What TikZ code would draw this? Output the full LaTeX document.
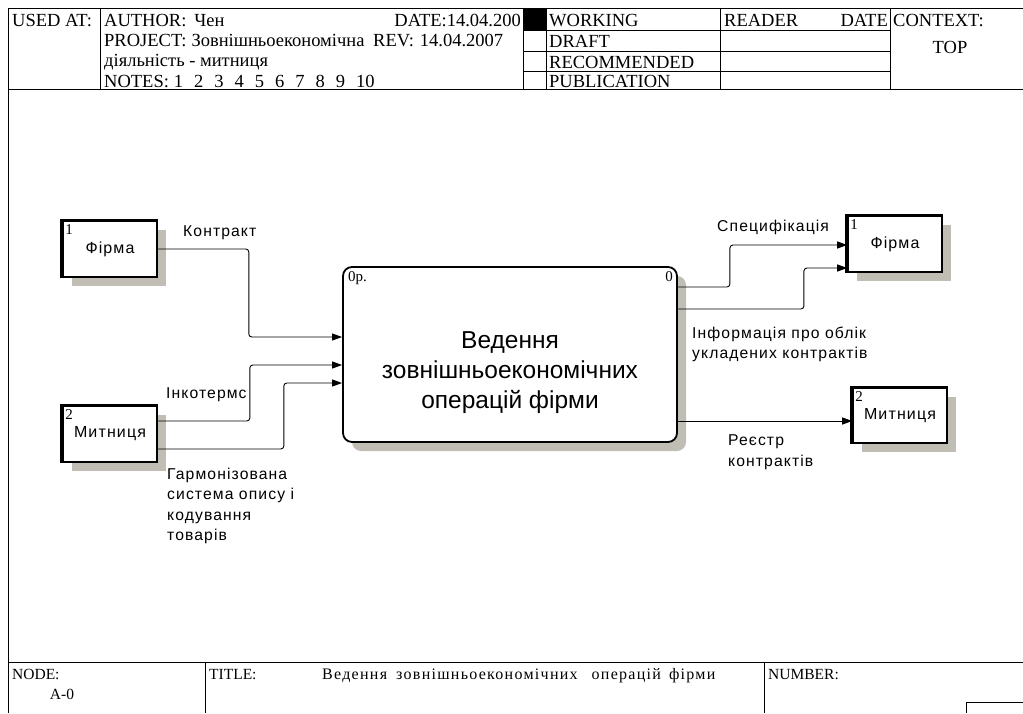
\documentclass[tikz,border=0pt]{standalone}
\usepackage{fontspec}
\setmainfont{Liberation Serif}
\newfontfamily\labfont{Liberation Sans}[LetterSpace=7]
\newfontfamily\titlefont{Liberation Sans}
\newfontfamily\ftitlefont{Liberation Serif}[LetterSpace=8]
\usetikzlibrary{arrows.meta,calc,shadows}
\definecolor{shadowc}{RGB}{192,189,180}
\begin{document}
\begin{tikzpicture}[x=1pt,y=-1pt,
  frameline/.style={line width=1pt, draw=black},
  hdr/.style={anchor=base west, inner sep=0pt, font=\fontsize{18.5}{20}\selectfont},
  ftr/.style={anchor=base west, inner sep=0pt, font=\fontsize{15.5}{18}\selectfont},
  lbl/.style={anchor=base west, inner sep=0pt, align=left, font=\labfont\fontsize{15.7}{20.5}\selectfont},
  ent/.style={draw, fill=white, line width=1.6pt, minimum width=94pt, minimum height=56pt, inner sep=0pt,
    font=\labfont\fontsize{16}{18}\selectfont,
    drop shadow={shadow xshift=9pt, shadow yshift=-9pt, fill=shadowc, opacity=1}},
  entnum/.style={anchor=north west, inner sep=0pt, font=\fontsize{15}{15}\selectfont},
  entleft/.style={line width=3.5pt},
  enttop/.style={line width=2.5pt},
  conn/.style={draw, line width=0.9pt, rounded corners=3pt, -{Triangle[length=10pt,width=7pt]}}
]
\useasboundingbox (0,0) rectangle (1023,713);
% frame and header
\draw[frameline] (8,713) -- (8,8) -- (1023,8);
\draw[frameline] (8,89) -- (1023,89);
\draw[frameline] (100,8) -- (100,89);
\draw[frameline] (523,8) -- (523,89);
\draw[frameline] (546,8) -- (546,89);
\draw[frameline] (720,8) -- (720,89);
\draw[frameline] (890,8) -- (890,89);
\draw[frameline] (523,30) -- (890,30);
\draw[frameline] (523,51) -- (890,51);
\draw[frameline] (523,71) -- (890,71);
\node[hdr] (usedat) at (12,26) {USED AT:};
\node[hdr] (author) at (104,26) {AUTHOR:\hspace{8pt}Чен};
\node[hdr, anchor=base east] (date1) at (521,26) {DATE:14.04.200};
\node[hdr] (project) at (104,46.5) {PROJECT:\hspace{5pt}Зовнішньоекономічна};
\node[hdr] (rev) at (373,46.5) {REV:\hspace{6pt}14.04.2007};
\node[hdr] (proj2) at (104,66) {діяльність - митниця};
\node[hdr] (notes) at (104,87) {NOTES:\hspace{5pt}1\hspace{11pt}2\hspace{11pt}3\hspace{11pt}4\hspace{11pt}5\hspace{11pt}6\hspace{11pt}7\hspace{11pt}8\hspace{11pt}9\hspace{11pt}10};
\fill[black] (523,8) rectangle (546,30);
\node[hdr] (working) at (549,26.5) {WORKING};
\node[hdr] (draft) at (549,47.5) {DRAFT};
\node[hdr] (recom) at (549,68) {RECOMMENDED};
\node[hdr] (publ) at (549,87) {PUBLICATION};
\node[hdr] (reader) at (724,26.5) {READER};
\node[hdr, anchor=base east] (date2) at (888,26.5) {DATE};
\node[hdr] (context) at (893,26.5) {CONTEXT:};
\node[hdr, anchor=base] (top) at (950,53) {TOP};
% footer
\draw[frameline] (8,662) -- (1023,662);
\draw[frameline] (205,662) -- (205,713);
\draw[frameline] (764,662) -- (764,713);
\draw[frameline] (966,713) -- (966,702) -- (1023,702);
\node[ftr] (nodelbl) at (12,679) {NODE:};
\node[ftr, anchor=base] (nodeval) at (62,699) {A-0};
\node[ftr] (titlelbl) at (209,679) {TITLE:};
\node[ftr, font=\ftitlefont\fontsize{16}{18}\selectfont] (titleval) at (322,679) {Ведення\hspace{9pt}зовнішньоекономічних\hspace{14pt}операцій\hspace{8pt}фірми};
\node[ftr] (numlbl) at (768,679) {NUMBER:};
% main activity
\node[draw, fill=white, rounded corners=9pt, line width=1.8pt, minimum width=334pt, minimum height=175pt,
  drop shadow={shadow xshift=9pt, shadow yshift=-9pt, fill=shadowc, opacity=1}] (main) at (510,354.5) {};
\node[font=\titlefont\fontsize{24.5}{30}\selectfont, align=center, inner sep=0pt] (maintitle) at (510,373) {Ведення\\зовнішньоекономічних\\операцій фірми};
\node[anchor=north west, inner sep=0pt, font=\fontsize{15}{15}\selectfont] (mainnum) at (348,271) {0р.};
\node[anchor=north east, inner sep=0pt, font=\fontsize{15}{15}\selectfont] (mainnum2) at (673,271) {0};
% entities
\node[ent] (f1) at (110,249) {\raisebox{-7pt}{Фірма}};
\node[ent] (m1) at (110,434) {\raisebox{-7pt}{Митниця}};
\node[ent] (f2) at (895,244) {\raisebox{-8pt}{Фірма}};
\node[ent, minimum height=55pt] (m2) at (900,415.5) {\raisebox{-7pt}{Митниця}};
\foreach \e in {f1,m1,f2,m2}{
  \draw[entleft] (\e.south west) -- (\e.north west);
  \draw[enttop] ([xshift=-1.75pt]\e.north west) -- (\e.north east);
}
\node[entnum] (f1n) at ($(f1.north west)+(3,4)$) {1};
\node[entnum] (m1n) at ($(m1.north west)+(3,4)$) {2};
\node[entnum] (f2n) at ($(f2.north west)+(3,4)$) {1};
\node[entnum] (m2n) at ($(m2.north west)+(3,4)$) {2};
% connectors
\draw[conn] (f1.east) -- ++(91,0) |- ([yshift=17.5pt]main.west);
\draw[conn] ([yshift=13pt]m1.east) -- ++(92,0) |- ([yshift=-10.5pt]main.west);
\draw[conn] ([yshift=-15pt]m1.east) -- ++(126,0) |- ([yshift=-28.5pt]main.west);
\draw[conn] ([yshift=67.5pt]main.east) -- ++(52,0) |- ([yshift=-1pt]f2.west);
\draw[conn] ([yshift=45.5pt]main.east) -- ++(126,0) |- ([yshift=-24pt]f2.west);
\draw[conn] ([yshift=-66.5pt]main.east) -- ([yshift=-5.5pt]m2.west);
% labels
\node[lbl] (lkontr) at (183,236) {Контракт};
\node[lbl] (linko) at (166,398) {Інкотермс};
\node[lbl] (lgarm) at (167,540.5) {Гармонізована\\система опису і\\кодування\\товарів};
\node[lbl] (lspec) at (717,231) {Специфікація};
\node[lbl] (linfo) at (692,358.5) {Інформація про облік\\укладених контрактів};
\node[lbl] (lreestr) at (728,466) {Реєстр\\контрактів};
\end{tikzpicture}
\end{document}
